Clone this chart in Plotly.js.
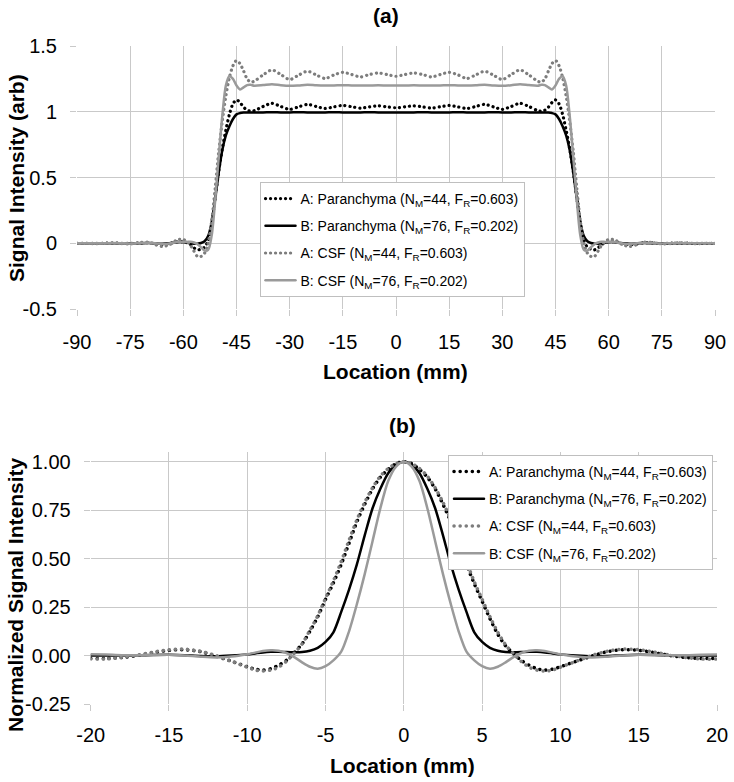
<!DOCTYPE html>
<html><head><meta charset="utf-8">
<script src="https://cdn.plot.ly/plotly-3.0.1.min.js"></script>
<style>
html,body{margin:0;padding:0;background:#fff}
#chart{width:734px;height:782px}
#chart .js-line{stroke-linecap:round}
</style>
</head><body><div id="chart"></div>
<script>
// ---------- Panel (a) data ----------
const locationA = [-90,-87.5,-85,-82.5,-80,-77.5,-75,-72.5,-70,-68,-66,-64,-62,-61,-60,-59,-58,-57,-56,-55,-54,-53,-52,-51,-50,-49,-48,-47,-46,-45,-44,-43,-42,-41,-40,-37.5,-35,-32.5,-30,-27.5,-25,-22.5,-20,-17.5,-15,-12.5,-10,-7.5,-5,-2.5,0,2.5,5,7.5,10,12.5,15,17.5,20,22.5,25,27.5,30,32.5,35,37.5,40,41,42,43,44,45,46,47,48,49,50,51,52,53,54,55,56,57,58,59,60,61,62,64,66,68,70,72.5,75,77.5,80,82.5,85,87.5,90];

const paranchymaA_a = [0,0,-0.001,0,0.002,0,-0.002,0.002, 0.004,-0.005,-0.01,-0.003,0.01, 0.013,0.012,0.005,-0.01,-0.035,-0.05,-0.045,-0.03,0.02,0.15,0.35,0.55,0.72,0.86,0.98,1.06,1.09,1.07,1.035,1.012,1.005,1.008, 1.04,1.064,1.04,1.018,1.037,1.056,1.04,1.025,1.037,1.048,1.038,1.028,1.037,1.045,1.037,
 1.03,
 1.037,1.045,1.037,1.028,1.038,1.048,1.037,1.025,1.04,1.056,1.037,1.018,1.04,1.064,1.04, 1.008,1.005,1.012,1.035,1.07,1.09,1.06,0.98,0.86,0.72,0.55,0.35,0.15,0.02,-0.03,-0.045,-0.05,-0.035,-0.01,0.005,0.012,0.013, 0.01,-0.003,-0.01,-0.005,0.004, 0.002,-0.002,0,0.002,0,-0.001,0,0];

const paranchymaB_a = [0,0,0,0,0,0,0,0, 0.001,0,-0.003,0,0.006, 0.009,0.008,0.004,0,-0.003,-0.003,0.002,0.015,0.055,0.16,0.34,0.54,0.71,0.82,0.89,0.945,0.98,0.99,0.994,0.995,0.995,0.995, 0.995,0.996,0.995,0.995,0.996,0.995,0.995,0.995,0.996,0.995,0.995,0.995,0.996,0.995,0.995,
 0.995,
 0.995,0.995,0.996,0.995,0.995,0.995,0.996,0.995,0.995,0.995,0.996,0.995,0.995,0.996,0.995, 0.995,0.995,0.995,0.994,0.99,0.98,0.945,0.89,0.82,0.71,0.54,0.34,0.16,0.055,0.015,0.002,-0.003,-0.003,0,0.004,0.008,0.009, 0.006,0,-0.003,0,0.001, 0,0,0,0,0,0,0,0];

const csfA_a = [0,0,-0.003,0,0.003,-0.002,-0.005,0.004, 0.008,-0.01,-0.025,-0.012,0.022, 0.03,0.028,0.015,-0.015,-0.06,-0.1,-0.1,-0.075,0.0,0.17,0.42,0.70,0.93,1.12,1.26,1.35,1.39,1.365,1.31,1.25,1.225,1.232, 1.28,1.318,1.283,1.245,1.278,1.308,1.28,1.253,1.28,1.30,1.283,1.265,1.283,1.295,1.283,
 1.27,
 1.283,1.295,1.283,1.265,1.283,1.30,1.28,1.253,1.28,1.308,1.278,1.245,1.283,1.318,1.28, 1.232,1.225,1.25,1.31,1.365,1.39,1.35,1.26,1.12,0.93,0.70,0.42,0.17,0.0,-0.075,-0.1,-0.1,-0.06,-0.015,0.015,0.028,0.03, 0.022,-0.012,-0.025,-0.01,0.008, 0.004,-0.005,-0.002,0.003,0,-0.003,0,0];

const csfB_a = [0,0,0,0,0.001,0,-0.002,0.001, 0.003,0,-0.006,-0.002,0.008, 0.012,0.01,0.01,0.012,0.006,-0.008,-0.03,-0.055,-0.05,0.06,0.33,0.66,0.97,1.2,1.27,1.25,1.2,1.17,1.185,1.203,1.205,1.198, 1.203,1.21,1.202,1.197,1.2,1.205,1.201,1.199,1.2,1.202,1.2,1.199,1.2,1.201,1.2,
 1.2,
 1.2,1.201,1.2,1.199,1.2,1.202,1.2,1.199,1.201,1.205,1.2,1.197,1.202,1.21,1.203, 1.198,1.205,1.203,1.185,1.17,1.2,1.25,1.27,1.2,0.97,0.66,0.33,0.06,-0.05,-0.055,-0.03,-0.008,0.006,0.012,0.01,0.01,0.012, 0.008,-0.002,-0.006,0,0.003, 0.001,-0.002,0,0.001,0,0,0,0];

// ---------- Panel (b) data ----------
const locationB = [-20,-19,-18,-17,-16,-15,-14,-13,-12,-11,-10,-9.5,-9,-8.5,-8,-7.5,-7,-6.5,-6,-5.5,-5,-4.5,-4,-3.5,-3,-2.5,-2,-1.5,-1,-0.5,0,0.5,1,1.5,2,2.5,3,3.5,4,4.5,5,5.5,6,6.5,7,7.5,8,8.5,9,9.5,10,11,12,13,14,15,16,17,18,19,20];

const paranchymaA_b = [-0.015,-0.015,-0.01,0.0,0.015,0.027,0.03,0.02,-0.003,-0.03, -0.058,-0.07,-0.075,-0.068,-0.05,-0.025,0.015,0.06,0.125,0.2,0.29,0.375,0.47,0.58,0.69,0.78,0.86,0.92,0.96,0.99,
 1.0,
 0.99,0.96,0.92,0.86,0.78,0.69,0.58,0.47,0.37,0.28,0.19,0.11,0.05,0.01,-0.025,-0.05,-0.068,-0.075,-0.07,-0.058, -0.03,-0.003,0.02,0.03,0.027,0.015,0.0,-0.01,-0.015,-0.015];

const paranchymaB_b = [0.0,0.0,0.0,0.001,0.003,0.004,0.002,-0.002,-0.004,0.0, 0.006,0.011,0.016,0.019,0.02,0.018,0.017,0.018,0.025,0.04,0.07,0.12,0.225,0.34,0.47,0.62,0.76,0.86,0.94,0.985,
 1.0,
 0.985,0.94,0.86,0.76,0.62,0.47,0.34,0.225,0.12,0.07,0.04,0.025,0.018,0.017,0.018,0.02,0.019,0.016,0.011,0.006, 0.0,-0.004,-0.002,0.002,0.004,0.003,0.001,0.0,0.0,0.0];

const csfA_b = [-0.018,-0.018,-0.01,0.002,0.018,0.03,0.033,0.022,0.0,-0.03, -0.06,-0.075,-0.08,-0.075,-0.06,-0.03,0.012,0.06,0.13,0.205,0.295,0.385,0.485,0.595,0.70,0.79,0.865,0.925,0.965,0.99,
 1.0,
 0.99,0.965,0.925,0.865,0.79,0.70,0.595,0.485,0.38,0.29,0.2,0.12,0.055,0.01,-0.03,-0.06,-0.075,-0.08,-0.075,-0.06, -0.03,0.0,0.022,0.033,0.03,0.018,0.002,-0.01,-0.018,-0.018];

const csfB_b = [0.007,0.005,0.002,0.002,0.004,0.004,0.0,-0.006,-0.01,-0.005, 0.007,0.015,0.023,0.027,0.025,0.013,-0.008,-0.035,-0.058,-0.068,-0.055,-0.025,0.02,0.125,0.265,0.42,0.59,0.76,0.9,0.975,
 1.0,
 0.975,0.9,0.76,0.59,0.42,0.265,0.125,0.02,-0.025,-0.055,-0.068,-0.058,-0.035,-0.008,0.013,0.025,0.027,0.023,0.015,0.007, -0.005,-0.01,-0.006,0.0,0.004,0.004,0.002,0.002,0.004,0.005];

// ---------- Labels ----------
const seriesNames = [
  'A: Paranchyma (N<sub>M</sub>=44, F<sub>R</sub>=0.603)',
  'B: Paranchyma (N<sub>M</sub>=76, F<sub>R</sub>=0.202)',
  'A: CSF (N<sub>M</sub>=44, F<sub>R</sub>=0.603)',
  'B: CSF (N<sub>M</sub>=76, F<sub>R</sub>=0.202)'
];
const xTickValsA = [-90,-75,-60,-45,-30,-15,0,15,30,45,60,75,90];
const xTickTextA = ['-90','-75','-60','-45','-30','-15','0','15','30','45','60','75','90'];
const yTickValsA = [-0.5,0,0.5,1,1.5];
const yTickTextA = ['-0.5','0','0.5','1','1.5'];
const xTickValsB = [-20,-15,-10,-5,0,5,10,15,20];
const xTickTextB = ['-20','-15','-10','-5','0','5','10','15','20'];
const yTickValsB = [-0.25,0,0.25,0.5,0.75,1];
const yTickTextB = ['-0.25','0.00','0.25','0.50','0.75','1.00'];
const panelTitles = ['(a)','(b)'];
const xTitle = 'Location (mm)';
const yTitleA = 'Signal Intensity (arb)';
const yTitleB = 'Normalized Signal Intensity';

// ---------- Build ----------
const W = 734, H = 782;
const FONT = 'Liberation Sans, Arial, Helvetica, sans-serif';
const GRID = '#c9c9c9';
const px = p => p / W;
const py = p => 1 - p / H;

const styles = [
  {color:'#000000', width:3.2, dash:'0.1px,4.9px'},
  {color:'#000000', width:2.5, dash:'solid'},
  {color:'#7d7d7d', width:3.2, dash:'0.1px,4.9px'},
  {color:'#9a9a9a', width:2.5, dash:'solid'}
];
const stylesB = [
  {color:'#000000', width:3.5, dash:'0.1px,6px'},
  {color:'#000000', width:2.5, dash:'solid'},
  {color:'#7d7d7d', width:3.5, dash:'0.1px,6px'},
  {color:'#9a9a9a', width:2.5, dash:'solid'}
];
const ysA = [paranchymaA_a, paranchymaB_a, csfA_a, csfB_a];
const ysB = [paranchymaA_b, paranchymaB_b, csfA_b, csfB_b];

const traces = [];
ysA.forEach((ys, i) => traces.push({
  x: locationA, y: ys, name: seriesNames[i], type: 'scatter', mode: 'lines',
  line: Object.assign({shape:'spline', smoothing:0.8}, styles[i]),
  xaxis: 'x', yaxis: 'y', legend: 'legend', legendgroup: 'a' + i, hoverinfo: 'skip'
}));
ysB.forEach((ys, i) => traces.push({
  x: locationB, y: ys, name: seriesNames[i], type: 'scatter', mode: 'lines',
  line: Object.assign({shape:'spline', smoothing:0.8}, stylesB[i]),
  xaxis: 'x2', yaxis: 'y2', legend: 'legend2', legendgroup: 'b' + i, hoverinfo: 'skip'
}));

const axisCommon = {
  showgrid: true, gridcolor: GRID, gridwidth: 1, zeroline: false, showline: false,
  ticks: 'outside', ticklen: 6, tickcolor: GRID, tickwidth: 1,
  tickfont: {family: FONT, size: 20, color: '#000'}, tickmode: 'array', fixedrange: true
};

const legendCommon = {
  bgcolor: '#ffffff', bordercolor: '#bfbfbf', borderwidth: 1,
  font: {family: FONT, size: 14, color: '#000'},
  yanchor: 'top', traceorder: 'grouped', tracegroupgap: 6, itemwidth: 30
};

const titleFont = {family: FONT, size: 21, color: '#000', weight: 'bold'};

const layout = {
  width: W, height: H,
  margin: {l: 0, r: 0, t: 0, b: 0},
  paper_bgcolor: '#fff', plot_bgcolor: '#fff',
  font: {family: FONT, color: '#000', size: 14},
  showlegend: true,
  xaxis: Object.assign({}, axisCommon, {domain: [px(77), px(715)], range: [-90, 90], tickvals: xTickValsA, ticktext: xTickTextA, anchor: 'y', ticklabelstandoff: 9}),
  yaxis: Object.assign({}, axisCommon, {domain: [py(309), py(46)], range: [-0.5, 1.5], tickvals: yTickValsA, ticktext: yTickTextA, anchor: 'x', ticklabelstandoff: 9}),
  xaxis2: Object.assign({}, axisCommon, {domain: [px(90.7), px(717)], range: [-20, 20], tickvals: xTickValsB, ticktext: xTickTextB, anchor: 'y2', ticklabelstandoff: 7}),
  yaxis2: Object.assign({}, axisCommon, {domain: [py(704), py(452)], range: [-0.25, 1.05], tickvals: yTickValsB, ticktext: yTickTextB, anchor: 'x2', ticklabelstandoff: 9}),
  legend: Object.assign({}, legendCommon, {x: px(392), xanchor: 'center', y: py(182)}),
  legend2: Object.assign({}, legendCommon, {x: px(713), xanchor: 'right', y: py(455)}),
  annotations: [
    {text: panelTitles[0], xref: 'paper', yref: 'paper', x: px(386), y: py(15), xanchor: 'center', yanchor: 'middle', showarrow: false, font: titleFont},
    {text: xTitle, xref: 'paper', yref: 'paper', x: px(395), y: py(371), xanchor: 'center', yanchor: 'middle', showarrow: false, font: titleFont},
    {text: yTitleA, xref: 'paper', yref: 'paper', x: px(16), y: py(178), xanchor: 'center', yanchor: 'middle', textangle: -90, showarrow: false, font: titleFont},
    {text: panelTitles[1], xref: 'paper', yref: 'paper', x: px(402), y: py(425), xanchor: 'center', yanchor: 'middle', showarrow: false, font: titleFont},
    {text: xTitle, xref: 'paper', yref: 'paper', x: px(403), y: py(765), xanchor: 'center', yanchor: 'middle', showarrow: false, font: titleFont},
    {text: yTitleB, xref: 'paper', yref: 'paper', x: px(15), y: py(595), xanchor: 'center', yanchor: 'middle', textangle: -90, showarrow: false, font: titleFont}
  ]
};

Plotly.newPlot('chart', traces, layout, {staticPlot: true, displayModeBar: false});
</script>
</body></html>
